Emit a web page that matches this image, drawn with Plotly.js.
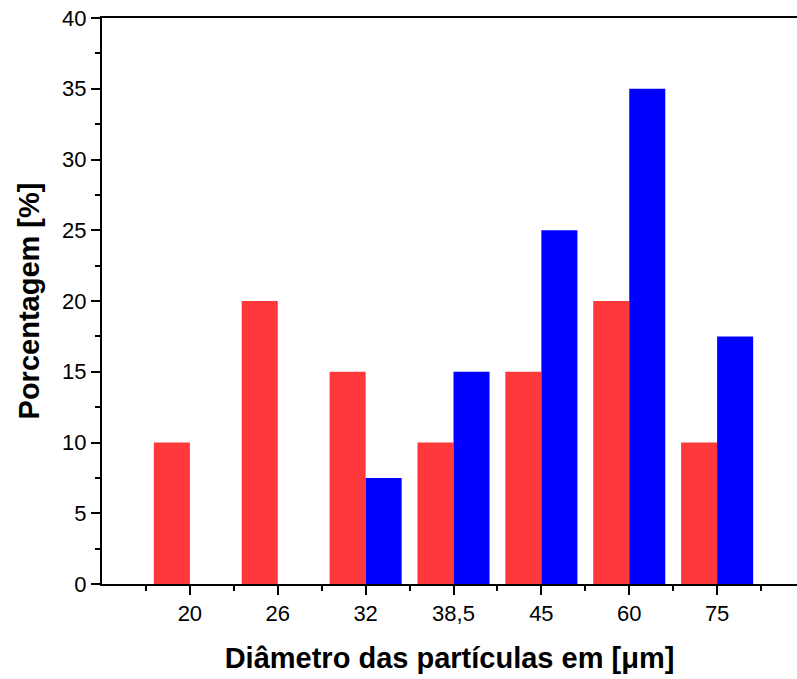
<!DOCTYPE html>
<html>
<head>
<meta charset="utf-8">
<script src="https://cdn.plot.ly/plotly-3.0.1.min.js"></script>
<style>html,body{margin:0;padding:0;background:#fff;}</style>
</head>
<body>
<div id="chart" style="width:797px;height:679px;"></div>
<script>
const categories = ["20", "26", "32", "38,5", "45", "60", "75"];
const redValues = [10, 20, 15, 10, 15, 20, 10];
const blueValues = [0, 0, 7.5, 15, 25, 35, 17.5];

const idx = categories.map((c, i) => i);
const minorVals = [-0.5, 0.5, 1.5, 2.5, 3.5, 4.5, 5.5, 6.5];

const traces = [
  {type: 'bar', x: idx, y: redValues, name: 'A', marker: {color: '#FF383C', line: {width: 0}}},
  {type: 'bar', x: idx, y: blueValues, name: 'B', marker: {color: '#0000FF', line: {width: 0}}}
];

const FONT = 'Arial, Liberation Sans, sans-serif';
const layout = {
  width: 797, height: 679,
  margin: {l: 102, r: 0, t: 18, b: 95},
  paper_bgcolor: '#fff', plot_bgcolor: '#fff',
  showlegend: false,
  barmode: 'group', bargap: 0.18, bargroupgap: 0,
  font: {family: FONT, color: '#000'},
  xaxis: {
    range: [-1, 6.909],
    tickmode: 'array', tickvals: idx, ticktext: categories,
    ticks: 'outside', ticklen: 9, tickwidth: 2, tickcolor: '#000',
    showline: true, linewidth: 2, linecolor: '#000', mirror: true,
    showgrid: false, zeroline: false,
    tickfont: {size: 22, family: FONT},
    minor: {tickmode: 'array', tickvals: minorVals, ticks: 'outside', ticklen: 5, tickwidth: 2, tickcolor: '#000', showgrid: false},
    title: {text: 'Diâmetro das partículas em [μm]', font: {size: 29, family: FONT, weight: 'bold'}, standoff: 22}
  },
  yaxis: {
    range: [0, 40],
    tickmode: 'linear', tick0: 0, dtick: 5,
    ticks: 'outside', ticklen: 9, tickwidth: 2, tickcolor: '#000',
    showline: true, linewidth: 2, linecolor: '#000',
    showgrid: false, zeroline: false,
    tickfont: {size: 22, family: FONT},
    minor: {dtick: 2.5, ticks: 'outside', ticklen: 5, tickwidth: 2, tickcolor: '#000', showgrid: false},
    title: {text: 'Porcentagem [%]', font: {size: 29, family: FONT, weight: 'bold'}, standoff: 14}
  }
};

Plotly.newPlot('chart', traces, layout, {displayModeBar: false, staticPlot: true});
</script>
</body>
</html>
